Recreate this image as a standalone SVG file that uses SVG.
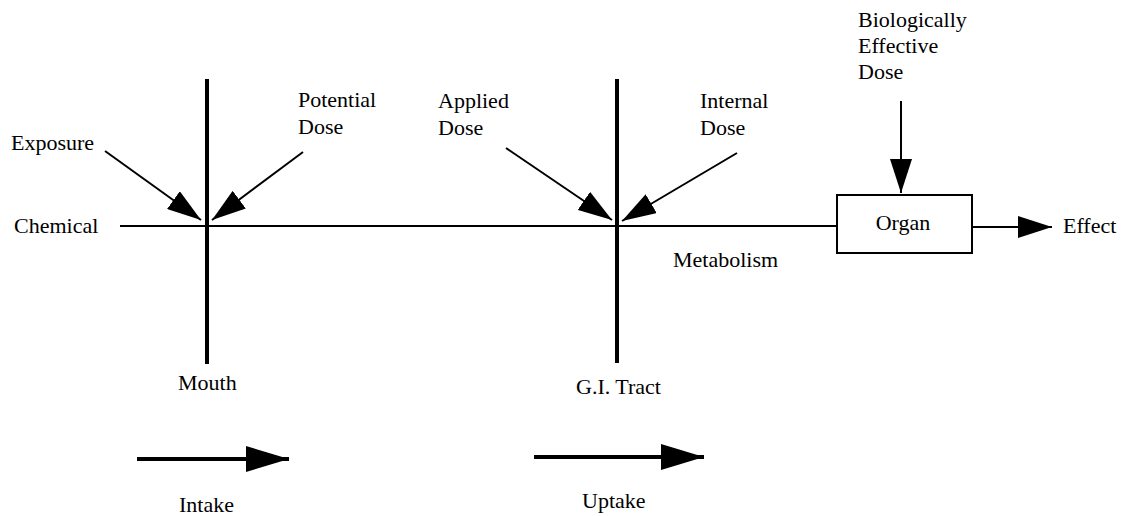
<svg xmlns="http://www.w3.org/2000/svg" width="1128" height="516" viewBox="0 0 1128 516">
<style>
text{font-family:"Liberation Serif","Times New Roman",serif;font-size:22px;fill:#000}
.thin{stroke:#000;stroke-width:2;fill:none}
.thick{stroke:#000;stroke-width:4;fill:none}
</style>
<defs>
<marker id="ah" markerUnits="userSpaceOnUse" markerWidth="34" markerHeight="22" refX="34" refY="11" orient="auto" viewBox="0 0 34 22">
<path d="M0,0 L34,11 L0,22 Z" fill="#000"/>
</marker>
<marker id="ahb" markerUnits="userSpaceOnUse" markerWidth="43" markerHeight="26" refX="43" refY="13" orient="auto" viewBox="0 0 43 26">
<path d="M0,0 L43,13 L0,26 Z" fill="#000"/>
</marker>
</defs>
<rect width="1128" height="516" fill="#fff"/>
<g id="connectors">
<line class="thin" x1="120" y1="226" x2="837" y2="226"/>
<line class="thin" x1="105" y1="151" x2="201" y2="220" marker-end="url(#ah)"/>
<line class="thin" x1="303" y1="152" x2="212" y2="220" marker-end="url(#ah)"/>
<line class="thin" x1="506" y1="148" x2="612" y2="220" marker-end="url(#ah)"/>
<line class="thin" x1="737" y1="153" x2="622" y2="221" marker-end="url(#ah)"/>
<line class="thin" x1="901" y1="101" x2="901" y2="193" marker-end="url(#ah)"/>
<line class="thin" x1="972" y1="227" x2="1052" y2="227" marker-end="url(#ah)"/>
<line class="thick" x1="137" y1="459" x2="289" y2="459" marker-end="url(#ahb)"/>
<line class="thick" x1="534" y1="457" x2="704" y2="457" marker-end="url(#ahb)"/>
</g>
<g id="chemical"><text x="14" y="233">Chemical</text></g>
<g id="exposure"><text x="11" y="150">Exposure</text></g>
<g id="mouth">
<line class="thick" x1="207" y1="79" x2="207" y2="364"/>
<text x="178" y="390">Mouth</text>
</g>
<g id="potential-dose"><text x="298" y="107">Potential</text><text x="298" y="134">Dose</text></g>
<g id="applied-dose"><text x="438" y="108">Applied</text><text x="438" y="135">Dose</text></g>
<g id="gi-tract">
<line class="thick" x1="617" y1="79" x2="617" y2="363"/>
<text x="576" y="394">G.I. Tract</text>
</g>
<g id="internal-dose"><text x="700" y="108">Internal</text><text x="700" y="135">Dose</text></g>
<g id="metabolism"><text x="673" y="267">Metabolism</text></g>
<g id="biologically-effective-dose"><text x="858" y="27">Biologically</text><text x="858" y="53">Effective</text><text x="858" y="79">Dose</text></g>
<g id="organ">
<rect class="thin" x="837" y="195" width="135" height="58"/>
<text x="903" y="230" text-anchor="middle">Organ</text>
</g>
<g id="effect"><text x="1063" y="233">Effect</text></g>
<g id="intake"><text x="179" y="512">Intake</text></g>
<g id="uptake"><text x="582" y="508">Uptake</text></g>
</svg>
